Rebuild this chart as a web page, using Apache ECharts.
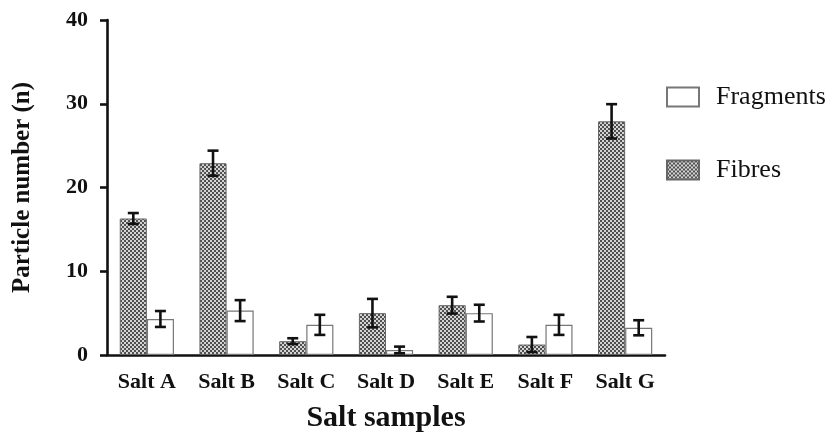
<!DOCTYPE html>
<html>
<head>
<meta charset="utf-8">
<script src="https://cdn.jsdelivr.net/npm/echarts@6/dist/echarts.min.js"></script>
<style>html,body{margin:0;padding:0;background:#fff}#c{width:830px;height:438px}</style>
</head>
<body>
<div id="c"></div>
<script>
const categories = ['Salt A', 'Salt B', 'Salt C', 'Salt D', 'Salt E', 'Salt F', 'Salt G'];
const fibres = [16.3, 22.9, 1.65, 5.0, 5.95, 1.25, 27.9];
const fibresErr = [0.65, 1.5, 0.35, 1.7, 1.0, 0.9, 2.05];
const fragments = [4.3, 5.3, 3.6, 0.6, 5.0, 3.6, 3.25];
const fragmentsErr = [0.95, 1.25, 1.2, 0.4, 1.0, 1.2, 0.9];
const yTicks = [0, 10, 20, 30, 40];

const serif = "'Liberation Serif', 'DejaVu Serif', serif";

const pc = document.createElement('canvas');
pc.width = 4; pc.height = 4;
const px = pc.getContext('2d');
px.fillStyle = '#d4d4d4'; px.fillRect(0, 0, 4, 4);
px.fillStyle = '#505050'; px.fillRect(0, 0, 2, 2); px.fillRect(2, 2, 2, 2);
const pattern = { image: pc, repeat: 'repeat' };

const BAR_FRAC = 0.34;

function errData(vals, errs) {
  return vals.map((v, i) => [i, v - errs[i], v + errs[i]]);
}
function errRender(side) {
  return function (params, api) {
    const idx = api.value(0);
    const band = api.size([1, 0])[0];
    const off = side * band * BAR_FRAC / 2;
    const lo = api.coord([idx, api.value(1)]);
    const hi = api.coord([idx, api.value(2)]);
    const x = lo[0] + off;
    const cap = 5.5;
    const st = { stroke: '#111', lineWidth: 2.6 };
    return {
      type: 'group',
      children: [
        { type: 'line', shape: { x1: x, y1: lo[1], x2: x, y2: hi[1] }, style: st },
        { type: 'line', shape: { x1: x - cap, y1: lo[1], x2: x + cap, y2: lo[1] }, style: st },
        { type: 'line', shape: { x1: x - cap, y1: hi[1], x2: x + cap, y2: hi[1] }, style: st }
      ]
    };
  };
}

const chart = echarts.init(document.getElementById('c'), null, { renderer: 'canvas' });
chart.setOption({
  animation: false,
  backgroundColor: '#fff',
  grid: { left: 107, right: 165, top: 20, bottom: 78, containLabel: false },
  legend: {
    orient: 'vertical',
    left: 666,
    top: 84,
    padding: 0,
    icon: 'rect',
    itemWidth: 32,
    itemHeight: 19,
    itemGap: 47,
    data: ['Fragments', 'Fibres'],
    textStyle: { fontFamily: serif, fontSize: 26, color: '#111', lineHeight: 26, padding: [0, 0, 0, 12] }
  },
  xAxis: {
    type: 'category',
    data: categories,
    name: 'Salt samples',
    nameLocation: 'middle',
    nameGap: 48,
    nameTextStyle: { fontFamily: serif, fontSize: 30, fontWeight: 'bold', color: '#111' },
    axisLine: { lineStyle: { color: '#111', width: 2.6 } },
    axisTick: { alignWithLabel: true, length: 8, lineStyle: { color: '#111', width: 2.6 } },
    axisLabel: { fontFamily: serif, fontSize: 22, fontWeight: 'bold', color: '#111', margin: 16 }
  },
  yAxis: {
    type: 'value',
    min: yTicks[0],
    max: yTicks[yTicks.length - 1],
    interval: yTicks[1] - yTicks[0],
    name: 'Particle number (n)',
    nameLocation: 'middle',
    nameGap: 72,
    nameTextStyle: { fontFamily: serif, fontSize: 25, fontWeight: 'bold', color: '#111' },
    axisLine: { show: true, lineStyle: { color: '#111', width: 2.6 } },
    axisTick: { show: true, length: 7, lineStyle: { color: '#111', width: 2.6 } },
    splitLine: { show: false },
    axisLabel: { fontFamily: serif, fontSize: 22, fontWeight: 'bold', color: '#111', margin: 19 }
  },
  series: [
    {
      name: 'Fibres', type: 'bar', data: fibres,
      barWidth: (BAR_FRAC * 100) + '%', barGap: '0%',
      itemStyle: { color: pattern, borderColor: '#666', borderWidth: 1 }
    },
    {
      name: 'Fragments', type: 'bar', data: fragments,
      barWidth: (BAR_FRAC * 100) + '%', barGap: '0%',
      itemStyle: { color: '#fff', borderColor: '#777', borderWidth: 1.2 }
    },
    {
      name: 'FibresErr', type: 'custom', data: errData(fibres, fibresErr),
      renderItem: errRender(-1), z: 5, clip: false,
      encode: { x: 0, y: [1, 2] }
    },
    {
      name: 'FragmentsErr', type: 'custom', data: errData(fragments, fragmentsErr),
      renderItem: errRender(1), z: 5, clip: false,
      encode: { x: 0, y: [1, 2] }
    }
  ]
});
</script>
</body>
</html>
